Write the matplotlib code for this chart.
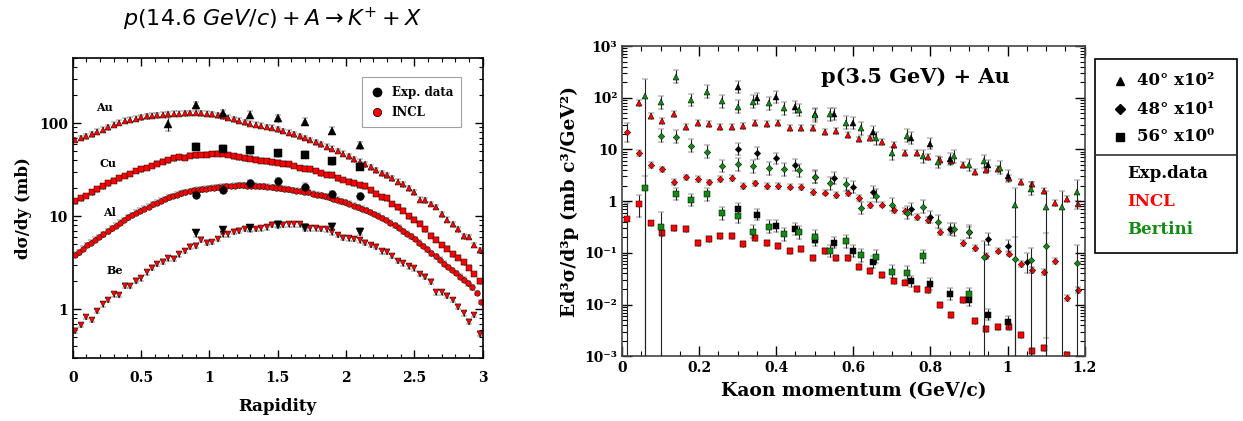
import numpy as np
import matplotlib.pyplot as plt
from matplotlib.lines import Line2D
from matplotlib.patches import Rectangle
from matplotlib.ticker import FixedLocator, FixedFormatter, MultipleLocator, LogLocator, NullFormatter

plt.rcParams['font.family'] = 'DejaVu Serif'
plt.rcParams['font.weight'] = 'bold'
plt.rcParams['axes.labelweight'] = 'bold'
plt.rcParams['mathtext.fontset'] = 'custom'
plt.rcParams['mathtext.it'] = 'DejaVu Sans:italic:normal'
plt.rcParams['mathtext.rm'] = 'DejaVu Sans:normal'
plt.rcParams['mathtext.bf'] = 'DejaVu Sans:normal'

nan = np.nan

# ---------------- left panel: p(14.6 GeV/c) + A -> K+ + X ----------------
rap = np.round(np.arange(0.02, 3.0, 0.04), 3)      # bins for Au, Cu, Be
rap_al = np.round(np.arange(0.015, 3.0, 0.03), 3)  # Al is binned finer

incl_au = [66, 69, 72, 76, 81, 85, 90, 96, 101, 106,
           109, 112, 115, 118, 120, 121, 123, 124, 126, 126,
           127, 128, 128, 127, 126, 124, 121, 118, 114, 110,
           106, 102, 99, 96, 94, 91, 89, 86, 82, 79,
           76, 72, 69, 66, 62, 59, 56, 53, 50, 47,
           44, 41, 38.5, 36, 33.5, 31, 29, 27.5, 25.5, 23.5,
           22, 20, 18, 15, 14.8, 13.5, 12.6, 10.5, 9.2, 8.2,
           7.2, 6.1, 6.0, 4.9, 4.3]
incl_cu = [14.5, 15.5, 16.5, 18, 19.5, 21, 22.5, 24, 25.5, 27,
           28.5, 30.5, 32, 33, 34.5, 36.5, 38.5, 40, 42, 43,
           42.5, 44.5, 45, 45.5, 46, 46.5, 47, 46.5, 45.5, 44,
           43, 42, 41.5, 40.5, 39.5, 39, 38, 37.5, 36.5, 36,
           34.5, 33, 32.5, 32, 30.5, 29, 28, 27.5, 25.5, 24.5,
           23.5, 22.5, 21.5, 21, 19, 17.5, 16, 15.5, 13.5, 12.5,
           11.5, 10, 9.2, 8.3, 7.2, 6.2, 5.6, 4.9, 4.5, 3.9,
           3.6, 3.2, 2.8, 2.4, 2.0]
incl_al = [3.85, 4.1, 4.5, 4.9, 5.2, 5.6, 6.0, 6.4, 6.9, 7.4,
           7.9, 8.5, 9.1, 9.7, 10.3, 10.9, 11.5, 12.1, 12.7, 13.4,
           14.0, 14.7, 15.3, 15.9, 16.5, 17.0, 17.6, 18.1, 18.5, 18.9,
           19.2, 19.5, 19.8, 20.1, 20.3, 20.5, 20.7, 20.9, 21.1, 21.3,
           21.4, 21.4, 21.3, 21.3, 21.2, 21.0, 20.9, 20.7, 20.4, 20.2,
           19.9, 19.7, 19.4, 19.1, 18.8, 18.6, 18.4, 18.0, 17.5, 17.1,
           16.7, 16.3, 15.9, 15.4, 15.0, 14.5, 14.1, 13.6, 13.0, 12.5,
           12.1, 11.6, 11.1, 10.6, 10.1, 9.6, 9.1, 8.5, 8.0, 7.5,
           6.9, 6.5, 6.1, 5.7, 5.2, 4.8, 4.4, 4.0, 3.7, 3.4,
           3.1, 2.85, 2.65, 2.45, 2.25, 2.08, 1.9, 1.72, 1.5, 1.2]
incl_be = [0.59, 0.68, 0.83, 0.77, 0.96, 1.13, 1.26, 1.45, 1.43, 1.80,
           1.78, 2.03, 2.15, 2.50, 2.81, 3.07, 3.26, 3.53, 3.50, 3.9,
           4.24, 4.72, 4.84, 5.6, 5.2, 5.3, 5.7, 6.4, 6.4, 6.8,
           7.0, 7.3, 7.3, 7.3, 7.4, 7.6, 8.1, 8.2, 8.1, 8.2,
           8.2, 8.2, 7.7, 7.4, 7.4, 7.3, 7.2, 6.7, 6.3, 5.9,
           5.8, 5.7, 5.5, 5.2, 4.9, 4.7, 4.2, 4.15, 3.75, 3.3,
           3.12, 2.9, 2.76, 2.4, 2.24, 1.98, 1.52, 1.52, 1.40, 1.26,
           1.07, 0.91, 0.74, 0.87, 0.55]

exp_rap = [0.7, 0.9, 1.1, 1.3, 1.5, 1.7, 1.9, 2.1]
exp_au = [97, 155, 128, 123, 113, 104, 83, 58]
exp_cu = [nan, 56, 53, 51, 47.5, 45.7, 39, 34]
exp_al = [nan, 17, 19.2, 22.6, 23.6, 20.8, 17.2, 16.3]
exp_be = [nan, 6.6, 7.1, 7.4, 8.1, 7.55, 7.7, 6.8]

nuclei = ['Au', 'Cu', 'Al', 'Be']
label_pos = {'Au': (0.23, 148), 'Cu': (0.26, 37), 'Al': (0.27, 11), 'Be': (0.31, 2.6)}

# ---------------- right panel: p(3.5 GeV) + Au ----------------
p_incl = [0.014, 0.044, 0.075, 0.105, 0.135, 0.166, 0.196, 0.225, 0.255, 0.286,
          0.315, 0.344, 0.375, 0.405, 0.435, 0.465, 0.496, 0.526, 0.556, 0.585,
          0.614, 0.644, 0.675, 0.705, 0.733, 0.764, 0.794, 0.824, 0.854, 0.885,
          0.915, 0.945, 0.975, 1.003, 1.034, 1.064, 1.095, 1.124, 1.154, 1.184]
incl_40 = [nan, 78, 45, 35, 47.6, 27.5, 32.8, 30.5, 27.5, 27.5,
           28.2, 31.9, 30.5, 31.9, 26.3, 25.5, 25.5, 22, 22.6, 18.9,
           15.6, 16.3, 14.1, 12.1, 8.4, 8.4, 7.2, 6.2, 5.9, 5.0,
           3.7, 4.0, 4.2, 2.85, 2.37, 2.1, 1.6, 0.93, 1.1, 0.90]
incl_48 = [21.3, 8.7, 5.1, 4.1, 2.37, 2.87, 2.67, 2.3, 2.67, 2.75,
           1.98, 2.2, 1.98, 1.98, 1.92, 1.89, 1.52, 1.47, 1.31, 1.41,
           1.13, 0.84, 0.86, 0.67, 0.64, 0.50, 0.44, 0.255, 0.275, 0.158,
           0.125, 0.086, 0.111, 0.097, 0.060, 0.0475, 0.043, 0.070, 0.0135, 0.019]
incl_56 = [0.46, 0.875, 0.37, 0.244, 0.296, 0.287, 0.158, 0.184, 0.21, 0.213,
           0.147, 0.19, 0.158, 0.137, 0.108, 0.118, 0.080, 0.108, 0.080, 0.080,
           0.0536, 0.0442, 0.037, 0.028, 0.0267, 0.0204, 0.0195, 0.0097, 0.0062, 0.0121,
           0.00476, 0.00343, 0.0037, 0.0037, 0.00263, 0.00125, 0.00145, nan, 0.00105, nan]

p_exp = [0.30, 0.35, 0.40, 0.45, 0.50, 0.55, 0.60, 0.65, 0.70, 0.75,
         0.80, 0.85, 0.90, 0.95, 1.00, 1.05]
exp_40 = [160, 97, 105, 67, 49, 48, 33, 22, nan, 16.5,
          13, 6.5, nan, 4.9, 3.1, nan]
exp_48 = [10.1, 8.4, 6.7, 5.0, 2.96, 2.83, 1.89, 1.52, nan, 0.70,
          0.50, 0.287, 0.248, 0.184, 0.135, 0.067]
exp_56 = [0.70, 0.55, 0.333, 0.287, 0.176, 0.158, 0.108, 0.067, nan, 0.028,
          0.0248, 0.0158, 0.0121, 0.0064, 0.0046, nan]

p_bert = [0.06, 0.10, 0.14, 0.18, 0.22, 0.26, 0.30, 0.34, 0.38, 0.42,
          0.46, 0.50, 0.54, 0.58, 0.62, 0.66, 0.70, 0.74, 0.78, 0.82,
          0.86, 0.90, 0.94, 0.98, 1.02, 1.06, 1.10, 1.14, 1.18]
bert_40 = [109, 81, 255, 90, 131, 86, 67, 84, 78, 62,
           58, 46, 47.5, 33, 25.5, 16.4, 8.4, 18.5, 7.4, 5.7,
           7.4, 5.0, 5.9, 4.4, 0.85, 1.75, 0.78, 0.78, 1.5]
bert_48 = [nan, 18.4, 17.6, 11.8, 9.0, 4.8, 5.2, 4.76, 4.29, 4.1,
           3.98, 2.96, 2.2, 2.1, 0.74, 1.27, 0.86, 0.60, 0.78, 0.40,
           0.287, 0.255, 0.085, nan, 0.075, 0.073, 0.138, nan, 0.065]
bert_56 = [1.76, 0.32, 1.37, 1.05, 1.35, 0.58, 0.51, 0.255, 0.32, 0.23,
           0.25, 0.205, 0.109, 0.168, 0.090, 0.084, 0.0435, 0.041, 0.086, nan,
           nan, 0.0158, nan, nan, nan, nan, nan, nan, nan]

# error bars that do not follow the usual size: x -> (low, high)
big_err = {
    'incl_48': {0.014: (14, 32)},
    'incl_56': {0.014: (0.0009, 0.94), 0.044: (0.5, 1.3)},
    'exp_48': {1.05: (0.04, 0.1)},
    'bert_40': {0.06: (0.0009, 230), 1.02: (0.0009, 1.76), 1.10: (0.0009, 1.6),
                1.14: (0.0009, 1.6), 1.18: (0.7, 2.6)},
    'bert_48': {0.94: (0.0009, 0.17), 1.02: (0.0009, 0.2), 1.06: (0.0009, 0.125),
                1.10: (0.0023, 0.24), 1.18: (0.0009, 0.14)},
    'bert_56': {0.06: (0.0009, 3.0), 0.10: (0.0009, 0.62)},
}


def err_plot(ax, x, y, marker, face, k, ms, special=None, z=2):
    x = np.asarray(x, float)
    y = np.asarray(y, float)
    lo = y - y / k
    hi = y * k - y
    for xv, (a, b) in (special or {}).items():
        i = np.argmin(np.abs(x - xv))
        lo[i] = y[i] - a
        hi[i] = b - y[i]
    ax.errorbar(x, y, yerr=[lo, hi], fmt=marker, ms=ms, mfc=face, mec='black',
                mew=0.35, ecolor='#222222', elinewidth=0.8, capsize=2.3,
                capthick=0.8, zorder=z)


fig = plt.figure(figsize=(12.43, 4.21), dpi=100)

# ---- left
ax1 = fig.add_axes([0.0585, 0.1496, 0.3298, 0.7126])
incl_sets = [(rap, incl_au, '^', 4.6), (rap, incl_cu, 's', 3.8),
             (rap_al, incl_al, 'o', 4.0), (rap, incl_be, 'v', 4.6)]
exp_sets = [(exp_au, '^'), (exp_cu, 's'), (exp_al, 'o'), (exp_be, 'v')]
for (xs, ys, m, ms) in incl_sets:
    err_plot(ax1, xs, ys, m, 'red', 1.06, ms, z=2)
for (ys, m) in exp_sets:
    err_plot(ax1, exp_rap, ys, m, 'black', 1.09, 5.5,
             special={0.7: (83, 114)} if m == '^' else None, z=3)
for name in nuclei:
    ax1.text(*label_pos[name], name, fontsize=8, ha='center', va='center')

ax1.set_yscale('log')
ax1.set_xlim(0, 3)
ax1.set_ylim(0.3, 500)
ax1.xaxis.set_major_locator(FixedLocator([0, 0.5, 1, 1.5, 2, 2.5, 3]))
ax1.xaxis.set_major_formatter(FixedFormatter(['0', '0.5', '1', '1.5', '2', '2.5', '3']))
ax1.xaxis.set_minor_locator(MultipleLocator(0.1))
ax1.yaxis.set_major_locator(FixedLocator([1, 10, 100]))
ax1.yaxis.set_major_formatter(FixedFormatter(['1', '10', '100']))
ax1.yaxis.set_minor_locator(LogLocator(base=10, subs=np.arange(2, 10)))
ax1.yaxis.set_minor_formatter(NullFormatter())
ax1.tick_params(which='both', direction='in', top=True, right=True, labelsize=10)
ax1.tick_params(axis='x', pad=9)
ax1.tick_params(which='major', length=6, width=1)
ax1.tick_params(which='minor', length=3, width=0.8)
ax1.set_xlabel('Rapidity', fontsize=12, labelpad=10)
ax1.set_ylabel('dσ/dy (mb)', fontsize=12, labelpad=5)
for s in ax1.spines.values():
    s.set_linewidth(1.2)

h1 = [Line2D([], [], ls='', marker='o', ms=6, mfc='black', mec='black'),
      Line2D([], [], ls='', marker='o', ms=6, mfc='red', mec='black', mew=0.5)]
leg = ax1.legend(h1, ['Exp. data', 'INCL'], loc='upper right', bbox_to_anchor=(0.962, 0.955),
                 fontsize=8.5, frameon=True, fancybox=False, edgecolor='#888888',
                 handletextpad=0.6, borderpad=0.7, handlelength=1.2, labelspacing=0.6)
leg.get_frame().set_linewidth(0.8)

fig.text(0.219, 0.955, r'$p(14.6\ GeV/c) + A \rightarrow K^{+} + X$', fontsize=16,
         ha='center', va='center', fontweight='normal')

# ---- right
ax2 = fig.add_axes([0.5004, 0.1537, 0.3722, 0.7370])
err_plot(ax2, p_incl, incl_40, '^', 'red', 1.14, 4.2, big_err.get('incl_40'), z=2)
err_plot(ax2, p_incl, incl_48, 'D', 'red', 1.14, 3.3, big_err.get('incl_48'), z=2)
err_plot(ax2, p_incl, incl_56, 's', 'red', 1.14, 3.7, big_err.get('incl_56'), z=2)
err_plot(ax2, p_exp, exp_40, '^', 'black', 1.3, 4.2, big_err.get('exp_40'), z=3)
err_plot(ax2, p_exp, exp_48, 'D', 'black', 1.3, 3.3, big_err.get('exp_48'), z=3)
err_plot(ax2, p_exp, exp_56, 's', 'black', 1.3, 3.7, big_err.get('exp_56'), z=3)
err_plot(ax2, p_bert, bert_40, '^', '#138a13', 1.33, 4.2, big_err.get('bert_40'), z=4)
err_plot(ax2, p_bert, bert_48, 'D', '#138a13', 1.33, 3.3, big_err.get('bert_48'), z=4)
err_plot(ax2, p_bert, bert_56, 's', '#138a13', 1.33, 3.7, big_err.get('bert_56'), z=4)

ax2.set_yscale('log')
ax2.set_xlim(0, 1.2)
ax2.set_ylim(1e-3, 1e3)
ax2.xaxis.set_major_locator(FixedLocator([0, 0.2, 0.4, 0.6, 0.8, 1.0, 1.2]))
ax2.xaxis.set_major_formatter(FixedFormatter(['0', '0.2', '0.4', '0.6', '0.8', '1', '1.2']))
ax2.xaxis.set_minor_locator(MultipleLocator(0.05))
ax2.yaxis.set_major_locator(FixedLocator([1e-3, 1e-2, 1e-1, 1, 10, 100, 1000]))
ax2.yaxis.set_major_formatter(FixedFormatter(['10⁻³', '10⁻²', '10⁻¹', '1', '10', '10²', '10³']))
ax2.yaxis.set_minor_locator(LogLocator(base=10, subs=np.arange(2, 10)))
ax2.yaxis.set_minor_formatter(NullFormatter())
ax2.tick_params(which='both', direction='in', top=True, right=True, labelsize=10)
ax2.tick_params(which='major', length=7, width=1)
ax2.tick_params(which='minor', length=3.5, width=0.8)
ax2.set_xlabel('Kaon momentum (GeV/c)', fontsize=13.5, labelpad=5)
ax2.set_ylabel('Ed³σ/d³p (mb c³/GeV²)', fontsize=13.5, labelpad=4)
for s in ax2.spines.values():
    s.set_linewidth(1.2)
    s.set_color('#444444')
ax2.text(0.635, 0.90, 'p(3.5 GeV) + Au', transform=ax2.transAxes, fontsize=15,
         ha='center', va='center')

# ---- right legend box outside the axes
fig.patches.append(Rectangle((0.881, 0.399), 0.114, 0.461, transform=fig.transFigure,
                             fill=False, edgecolor='black', linewidth=1.2))
fig.lines.append(Line2D([0.881, 0.995], [0.632, 0.632], transform=fig.transFigure,
                        color='#333333', linewidth=1.2))
angles = [('^', '40° x10²', 0.808), ('D', '48° x10¹', 0.741), ('s', '56° x10⁰', 0.675)]
for m, lab, yy in angles:
    fig.lines.append(Line2D([0.901], [yy], transform=fig.transFigure, ls='', marker=m,
                            ms=6 if m != 'D' else 5, color='black'))
    fig.text(0.915, yy, lab, fontsize=12, va='center', ha='left')
models = [('Exp.data', 'black', 0.587), ('INCL', 'red', 0.521), ('Bertini', '#138a13', 0.454)]
for lab, c, yy in models:
    fig.text(0.907, yy, lab, fontsize=12, color=c, va='center', ha='left')

fig.savefig('out.png', dpi=100)
